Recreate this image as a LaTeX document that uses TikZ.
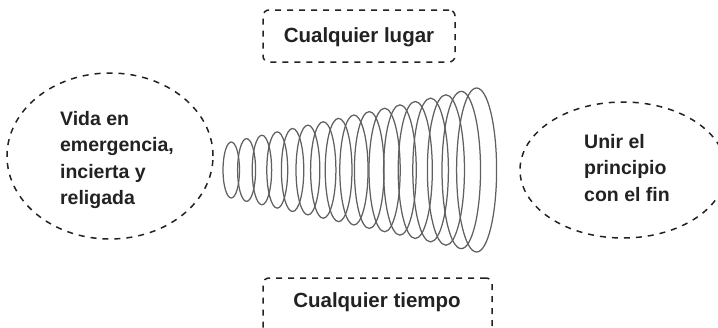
\documentclass[tikz,border=0pt]{standalone}
\usepackage{fontspec}
\setmainfont{Liberation Sans}
\usetikzlibrary{shapes.geometric}
\definecolor{ink}{HTML}{222222}
\definecolor{ring}{HTML}{606060}
\tikzset{
  dashline/.style={draw=ink, line width=1.5pt, dash pattern=on 6pt off 6pt},
  bubble/.style={ellipse, dashline, inner sep=0pt},
  framebox/.style={rectangle, rounded corners=6pt, dashline, inner sep=0pt},
  txt/.style={text=ink, font=\bfseries\fontsize{19.5}{26.3}\selectfont, align=left, inner sep=0pt},
  boxtxt/.style={text=ink, font=\bfseries\fontsize{20.5}{24}\selectfont, inner sep=0pt},
  ringline/.style={draw=ring, line width=1.25pt}
}
\begin{document}
\begin{tikzpicture}[x=1pt,y=-1pt]
\useasboundingbox (0,0) rectangle (718,327);
\clip (0,0) rectangle (718,327);
% bubbles
\node[bubble, minimum width=206pt, minimum height=166pt] (left) at (110,156) {};
\node[bubble, minimum width=206pt, minimum height=136pt] (right) at (623,170) {};
\node[txt] (lefttxt) at (117,160) {Vida en\\emergencia,\\incierta y\\religada};
\node[txt] (righttxt) at (627,168) {Unir el\\principio\\con el fin};
% boxes
\node[framebox, minimum width=192pt, minimum height=52pt] (top) at (359,36) {};
\node[boxtxt, anchor=base] (toptxt) at (359,42) {Cualquier lugar};
\node[framebox, minimum width=229pt, minimum height=54pt] (bottom) at (377.5,305) {};
\node[boxtxt, anchor=base] (bottomtxt) at (377,307) {Cualquier tiempo};
% rings
\foreach \i in {0,...,16}{
  \pgfmathsetmacro{\L}{223+\i*14.6}
  \pgfmathsetmacro{\w}{16.5+\i*23.5/16}
  \pgfmathsetmacro{\h}{28+\i*54/16}
  \draw[ringline] ({\L+\w/2},170) ellipse [x radius=\w/2, y radius=\h];
}
\end{tikzpicture}
\end{document}
